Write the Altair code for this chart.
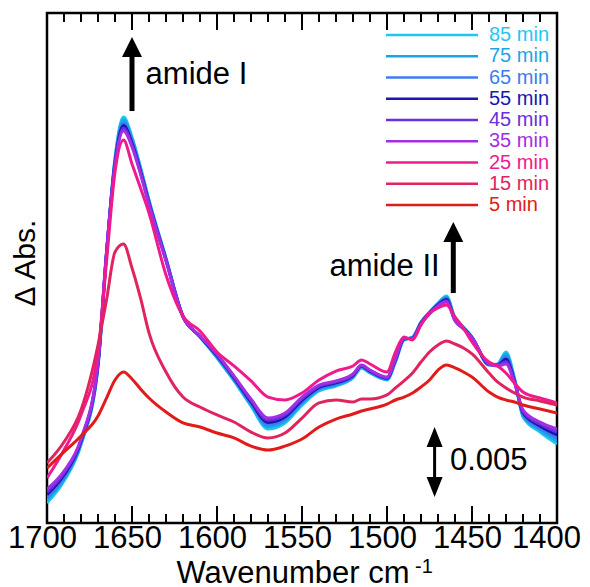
import altair as alt
import pandas as pd

# ---------------- data (ΔAbs in units of 1e-3) ----------------
wavenumber = [1700, 1690, 1680, 1670, 1665, 1660, 1655, 1650, 1645, 1640, 1630, 1620, 1610, 1600,
              1590, 1580, 1570, 1560, 1550, 1540, 1530, 1520, 1515, 1510, 1500, 1495, 1490, 1485,
              1480, 1475, 1470, 1465, 1460, 1455, 1450, 1440, 1435, 1430, 1425, 1420, 1410, 1400]

series_labels = ["85 min", "75 min", "65 min", "55 min", "45 min", "35 min", "25 min", "15 min", "5 min"]
series_colors = ["#1EC6F4", "#1AA6E6", "#3C7CF0", "#1818B0", "#6B2EDD", "#A42EE4", "#F01A8E", "#E0245E", "#E31A1A"]

abs_85 = [-2.36, -0.79, 1.79, 7.36, 15.36, 22.29, 25.21, 23.79, 21.64, 19.29, 15.14, 11.00, 9.50, 8.00,
          6.36, 4.57, 2.93, 3.36, 4.64, 5.64, 6.00, 6.57, 7.29, 6.93, 6.43, 7.71, 9.29, 9.50,
          10.57, 11.29, 11.93, 12.43, 10.86, 10.21, 9.50, 7.50, 7.57, 8.43, 6.57, 3.79, 2.71, 1.86]
abs_75 = [-2.16, -0.65, 1.88, 7.43, 15.40, 22.18, 25.01, 23.65, 21.54, 19.22, 15.10, 10.99, 9.51, 8.06,
          6.43, 4.67, 3.09, 3.50, 4.75, 5.73, 6.07, 6.63, 7.33, 6.97, 6.47, 7.77, 9.32, 9.47,
          10.54, 11.26, 11.89, 12.34, 10.82, 10.18, 9.49, 7.51, 7.54, 8.26, 6.50, 3.89, 2.85, 2.07]
abs_65 = [-1.96, -0.51, 1.96, 7.50, 15.44, 22.06, 24.81, 23.51, 21.44, 19.15, 15.06, 10.97, 9.53, 8.12,
          6.50, 4.77, 3.25, 3.64, 4.87, 5.81, 6.14, 6.69, 7.37, 7.01, 6.51, 7.83, 9.35, 9.44,
          10.51, 11.23, 11.85, 12.26, 10.78, 10.15, 9.47, 7.53, 7.51, 8.09, 6.43, 3.99, 2.99, 2.29]
abs_55 = [-1.76, -0.36, 2.05, 7.58, 15.49, 21.95, 24.61, 23.36, 21.34, 19.07, 15.01, 10.96, 9.54, 8.17,
          6.58, 4.87, 3.40, 3.79, 4.98, 5.90, 6.22, 6.74, 7.42, 7.06, 6.56, 7.88, 9.37, 9.42,
          10.49, 11.21, 11.80, 12.17, 10.73, 10.13, 9.46, 7.54, 7.49, 7.91, 6.35, 4.09, 3.14, 2.50]
abs_45 = [-1.56, -0.22, 2.13, 7.65, 15.53, 21.83, 24.41, 23.22, 21.24, 19.00, 14.97, 10.94, 9.56, 8.23,
          6.65, 4.97, 3.56, 3.93, 5.10, 5.98, 6.29, 6.80, 7.46, 7.10, 6.60, 7.94, 9.40, 9.39,
          10.46, 11.18, 11.76, 12.09, 10.69, 10.10, 9.44, 7.56, 7.46, 7.74, 6.28, 4.19, 3.28, 2.72]
abs_35 = [-1.36, -0.08, 2.22, 7.72, 15.57, 21.72, 24.21, 23.08, 21.14, 18.93, 14.93, 10.93, 9.57, 8.29,
          6.72, 5.07, 3.72, 4.07, 5.21, 6.07, 6.36, 6.86, 7.50, 7.14, 6.64, 8.00, 9.43, 9.36,
          10.43, 11.15, 11.72, 12.00, 10.65, 10.07, 9.43, 7.57, 7.43, 7.57, 6.21, 4.29, 3.42, 2.93]
abs_25 = [-0.57, 1.43, 3.93, 8.43, 14.86, 21.29, 23.57, 21.86, 20.14, 18.36, 13.93, 11.00, 9.93, 8.43,
          7.43, 6.36, 5.21, 5.00, 5.50, 6.43, 7.07, 7.43, 7.86, 7.57, 7.00, 8.43, 9.50, 9.29,
          10.36, 11.21, 11.57, 11.79, 10.93, 10.14, 9.14, 7.71, 7.43, 6.93, 6.21, 5.57, 5.14, 4.79]
abs_15 = [0.50, 2.00, 4.29, 8.93, 12.14, 15.57, 16.14, 14.43, 12.29, 9.79, 7.00, 5.21, 4.50, 3.93,
          3.43, 2.71, 2.29, 2.64, 3.71, 4.79, 5.00, 4.86, 5.07, 5.07, 5.36, 5.86, 6.36, 6.93,
          7.71, 8.43, 8.93, 9.21, 9.00, 8.71, 8.29, 6.93, 6.29, 5.86, 5.50, 5.21, 4.93, 4.64]
abs_5 = [0.14, 1.29, 2.43, 3.86, 5.14, 6.43, 7.00, 6.50, 5.79, 5.14, 4.14, 3.36, 3.07, 2.64,
         2.29, 1.71, 1.43, 1.71, 2.21, 3.07, 3.64, 4.00, 4.21, 4.36, 4.71, 5.00, 5.21, 5.50,
         5.93, 6.43, 7.14, 7.50, 7.29, 7.00, 6.64, 5.57, 5.21, 5.00, 4.86, 4.64, 4.36, 4.07]

series_values = [abs_85, abs_75, abs_65, abs_55, abs_45, abs_35, abs_25, abs_15, abs_5]

major_ticks = [1700, 1650, 1600, 1550, 1500, 1450, 1400]
minor_ticks = [w for w in range(1400, 1701, 10) if w % 50 != 0]

# annotations: arrows (wavenumber, base, tip) and labels
arrow_wn = [1650, 1461]
arrow_base = [25.64, 12.64]
arrow_tip = [30.93, 17.71]
scalebar_wn = [1472]
scalebar_lo = [-1.93]
scalebar_hi = [3.07]

# ---------------- build ----------------
rows = []
for lab, vals in zip(series_labels, series_values):
    for w, v in zip(wavenumber, vals):
        rows.append({"series": lab, "wn": w, "dA": v})
df = pd.DataFrame(rows)

W = H = 510
FONT = "Liberation Sans"
xscale = alt.Scale(domain=[1400, 1700], reverse=True, nice=False, zero=False)
yscale = alt.Scale(domain=[-3.786, 32.643], nice=False, zero=False)
cscale = alt.Scale(domain=series_labels, range=series_colors)

x_axis = alt.Axis(values=major_ticks, tickSize=0, domain=False, grid=False,
                  labelFontSize=31, labelPadding=0, labelFlush=False, labelOverlap=False,
                  labelOffset={"condition": {"test": "datum.value == 1400", "value": -11}, "value": -5},
                  labelColor="black", labelFont=FONT, title=None, format="d")


def X(field="wn"):
    return alt.X(f"{field}:Q", scale=xscale, axis=x_axis)


lines = alt.Chart(df).mark_line(strokeWidth=3, clip=True, interpolate="monotone").encode(
    x=X(),
    y=alt.Y("dA:Q", scale=yscale, axis=None),
    color=alt.Color("series:N", scale=cscale, legend=None),
)

major_df = pd.DataFrame({"wn": major_ticks})
minor_df = pd.DataFrame({"wn": minor_ticks})


def ticks(d, length):
    top = alt.Chart(d).mark_rule(color="black", strokeWidth=2).encode(
        x=X(), y=alt.value(0), y2=alt.value(length))
    bot = alt.Chart(d).mark_rule(color="black", strokeWidth=2).encode(
        x=X(), y=alt.value(H), y2=alt.value(H - length))
    return [top, bot]


tick_layers = ticks(major_df, 17) + ticks(minor_df, 9)

arrows_df = pd.DataFrame({"wn": arrow_wn, "base": arrow_base, "tip": arrow_tip})
shafts = alt.Chart(arrows_df).mark_rule(color="black", strokeWidth=5, y2Offset=12).encode(
    x=X(), y=alt.Y("base:Q", scale=yscale, axis=None), y2="tip:Q")
heads = alt.Chart(arrows_df).mark_point(shape="M0,-1L1,1L-1,1Z", size=400, filled=True,
                                         color="black", opacity=1, strokeWidth=0, yOffset=10).encode(
    x=X(), y=alt.Y("tip:Q", scale=yscale, axis=None))

sb_df = pd.DataFrame({"wn": scalebar_wn, "lo": scalebar_lo, "hi": scalebar_hi})
sb_shaft = alt.Chart(sb_df).mark_rule(color="black", strokeWidth=3, yOffset=-12, y2Offset=12).encode(
    x=X(), y=alt.Y("lo:Q", scale=yscale, axis=None), y2="hi:Q")
sb_up = alt.Chart(sb_df).mark_point(shape="M0,-1L0.8,1L-0.8,1Z", size=400, filled=True,
                                     color="black", opacity=1, strokeWidth=0, yOffset=10).encode(
    x=X(), y=alt.Y("hi:Q", scale=yscale, axis=None))
sb_down = alt.Chart(sb_df).mark_point(shape="M0,1L0.8,-1L-0.8,-1Z", size=400, filled=True,
                                       color="black", opacity=1, strokeWidth=0, yOffset=-10).encode(
    x=X(), y=alt.Y("lo:Q", scale=yscale, axis=None))

ann_left = pd.DataFrame({"label": ["amide I", "0.005"], "wn": [1642, 1463], "y": [28.2, 0.64]})
ann_right = pd.DataFrame({"label": ["amide II"], "wn": [1469], "y": [14.5]})
txt_left = alt.Chart(ann_left).mark_text(align="left", baseline="middle", fontSize=31, font=FONT,
                                          color="black").encode(
    x=X(), y=alt.Y("y:Q", scale=yscale, axis=None), text="label:N")
txt_right = alt.Chart(ann_right).mark_text(align="right", baseline="middle", fontSize=31, font=FONT,
                                            color="black").encode(
    x=X(), y=alt.Y("y:Q", scale=yscale, axis=None), text="label:N")

# legend drawn in the upper right corner
leg_df = pd.DataFrame({"series": series_labels})
leg_y = alt.Y("series:N", scale=alt.Scale(type="point", domain=series_labels, range=[22, 192], padding=0),
              axis=None)
leg_lines = alt.Chart(leg_df).mark_rule(strokeWidth=2.5).encode(
    x=alt.value(339), x2=alt.value(431), y=leg_y,
    color=alt.Color("series:N", scale=cscale, legend=None))
leg_text = alt.Chart(leg_df).mark_text(align="left", baseline="middle", fontSize=20, font=FONT).encode(
    x=alt.value(442), y=leg_y, text="series:N",
    color=alt.Color("series:N", scale=cscale, legend=None))

# axis titles
title_df = pd.DataFrame({"t": ["Wavenumber cm"]})
x_title = alt.Chart(title_df).mark_text(align="center", baseline="alphabetic", fontSize=31, font=FONT,
                                         color="black").encode(
    x=alt.value(246), y=alt.value(570), text="t:N")
sup_df = pd.DataFrame({"t": ["-1"]})
x_sup = alt.Chart(sup_df).mark_text(align="left", baseline="alphabetic", fontSize=20, font=FONT,
                                     color="black").encode(
    x=alt.value(368), y=alt.value(560), text="t:N")
ytitle_df = pd.DataFrame({"t": ["Δ Abs."]})
y_title = alt.Chart(ytitle_df).mark_text(align="center", baseline="middle", fontSize=30, font=FONT,
                                          angle=270, color="black").encode(
    x=alt.value(-21), y=alt.value(250), text="t:N")

chart = alt.layer(
    lines, *tick_layers, shafts, heads, sb_shaft, sb_up, sb_down, txt_left, txt_right,
    leg_lines, leg_text, x_title, x_sup, y_title
).resolve_scale(y="independent").properties(
    width=W, height=H,
    autosize=alt.AutoSizeParams(type="none"),
    padding={"left": 39, "top": 5, "right": 25, "bottom": 64},
).configure(font=FONT).configure_view(stroke="black", strokeWidth=2.5)

chart.save("out.html", embed_options={"renderer": "svg", "actions": False})
